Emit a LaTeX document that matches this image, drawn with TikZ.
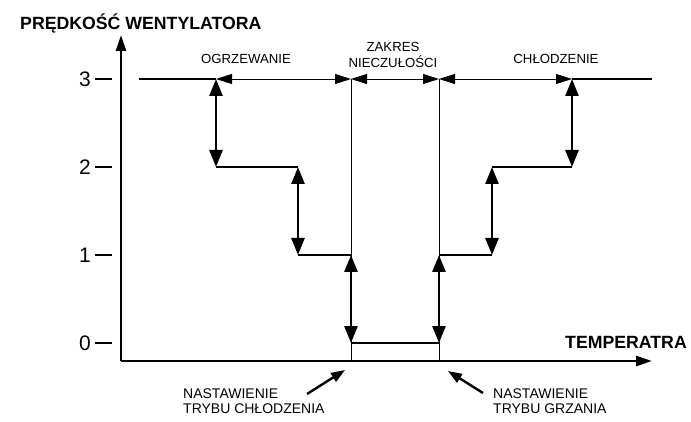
\documentclass[tikz,border=0pt]{standalone}
\usepackage{fontspec}
\setmainfont{Liberation Sans}
\usetikzlibrary{arrows.meta}
\begin{document}
\begin{tikzpicture}[x=1pt,y=-1pt,
  axisline/.style={line width=2.6pt,-{Triangle[length=16pt,width=10pt]}},
  thickline/.style={line width=2.6pt},
  dbl/.style={line width=2.6pt,{Triangle[length=17pt,width=13pt]}-{Triangle[length=17pt,width=13pt]}},
  thinline/.style={line width=0.9pt},
  dim/.style={line width=0.9pt,{Triangle[length=16pt,width=10pt]}-{Triangle[length=16pt,width=10pt]}},
  pointer/.style={line width=2.4pt,-{Triangle[length=14pt,width=10pt]}},
  tick/.style={line width=2.4pt},
  lvl/.style={anchor=east,inner sep=0pt,font=\fontsize{21}{24}\selectfont},
  small/.style={inner sep=0pt,font=\fontsize{13.2}{16}\selectfont,align=center},
  note/.style={inner sep=0pt,anchor=north west,font=\fontsize{14}{15}\selectfont,align=left},
  big/.style={inner sep=0pt,font=\fontsize{17.7}{20}\selectfont\bfseries}]
\useasboundingbox (0,0) rectangle (691,422);

% axes
\coordinate (O) at (121,361);
\coordinate (Ytop) at (121,35);
\coordinate (Xend) at (652,361);
\draw[axisline] (O) -- (Ytop);
\draw[axisline] (O) -- (Xend);

% ticks and level labels
\foreach \n/\y in {3/79,2/167,1/255,0/343}{
  \coordinate (t\n a) at (95,\y);
  \coordinate (t\n b) at (112,\y);
  \draw[tick] (t\n a) -- (t\n b);
  \node[lvl] (lab\n) at (91,\y) {\n};
}

% staircase points
\coordinate (a0) at (139,79);
\coordinate (a1) at (216,79);
\coordinate (a2) at (216,167);
\coordinate (a3) at (298,167);
\coordinate (a4) at (298,255);
\coordinate (a5) at (351,255);
\coordinate (a6) at (351,343);
\coordinate (a7) at (439,343);
\coordinate (a8) at (439,255);
\coordinate (a9) at (492,255);
\coordinate (a10) at (492,167);
\coordinate (a11) at (572,167);
\coordinate (a12) at (572,79);
\coordinate (a13) at (652,79);
\coordinate (m1) at (351,79);
\coordinate (m2) at (439,79);
\coordinate (b1) at (351,361);
\coordinate (b2) at (439,361);

% thin guide lines and dimension arrows
\draw[thinline] (m1) -- (b1);
\draw[thinline] (m2) -- (b2);
\draw[dim] (a1) -- (m1);
\draw[dim] (m1) -- (m2);
\draw[dim] (m2) -- (a12);

% thick horizontal steps
\draw[thickline] (a0) -- (a1);
\draw[thickline] (a2) -- (a3);
\draw[thickline] (a4) -- (a5);
\draw[thickline] (a6) -- (a7);
\draw[thickline] (a8) -- (a9);
\draw[thickline] (a10) -- (a11);
\draw[thickline] (a12) -- (a13);

% double arrows
\draw[dbl] (a1) -- (a2);
\draw[dbl] (a3) -- (a4);
\draw[dbl] (a5) -- (a6);
\draw[dbl] (a7) -- (a8);
\draw[dbl] (a9) -- (a10);
\draw[dbl] (a11) -- (a12);

% labels
\node[big,anchor=base west] (title) at (20,30) {PRĘDKOŚĆ WENTYLATORA};
\node[big,anchor=base west] (xlab) at (565,348) {TEMPERATRA};
\node[small] (heat) at (246,59) {OGRZEWANIE};
\node[small] (dead) at (393,55) {ZAKRES\\NIECZUŁOŚCI};
\node[small] (cool) at (556,59) {CHŁODZENIE};
\node[note] (ncool) at (183,389) {NASTAWIENIE\\TRYBU CHŁODZENIA};
\node[note] (nheat) at (493,389) {NASTAWIENIE\\TRYBU GRZANIA};

% pointers
\coordinate (p1s) at (307,394);
\coordinate (p1e) at (345,370);
\coordinate (p2s) at (483,393);
\coordinate (p2e) at (448,371);
\draw[pointer] (p1s) -- (p1e);
\draw[pointer] (p2s) -- (p2e);
\end{tikzpicture}
\end{document}
